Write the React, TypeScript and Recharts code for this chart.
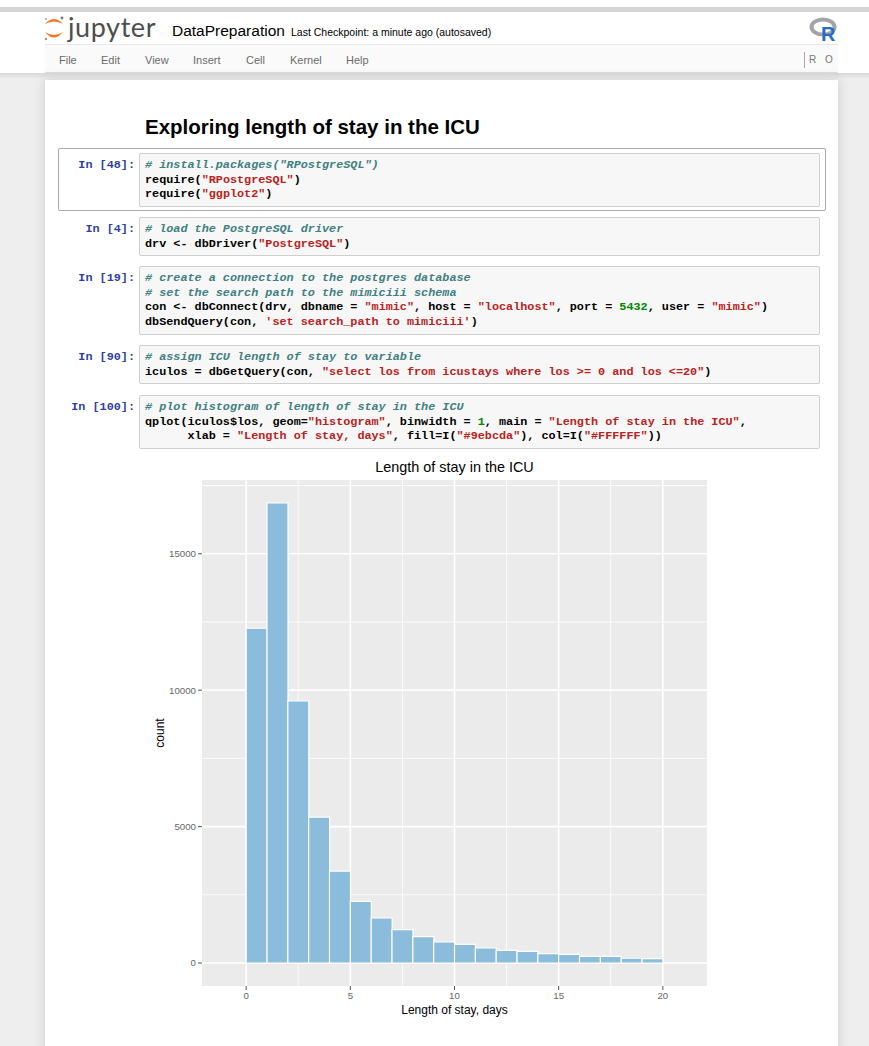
import React from 'react';
import {
  ComposedChart, Bar, XAxis, YAxis, CartesianGrid, Label,
} from 'recharts';

// histogram bins (binwidth = 1), left edge of each bin
const binLeft = [0, 1, 2, 3, 4, 5, 6, 7, 8, 9, 10, 11, 12, 13, 14, 15, 16, 17, 18, 19];
// counts
const counts = [12270, 16860, 9610, 5350, 3370, 2260, 1650, 1220, 970, 770, 680, 550, 460, 425, 340, 315, 245, 240, 175, 160];

const xTicks = [0, 5, 10, 15, 20];
const xMinor = [2.5, 7.5, 12.5, 17.5];
const yTicks = [0, 5000, 10000, 15000];
const yMinor = [2500, 7500, 12500, 17500];
const xDomain = [-2.12, 22.12];
const yDomain = [-843, 17703];

const histData = binLeft.map((x, i) => ({ mid: x + 0.5, count: counts[i] }));

const SANS = '"Liberation Sans", Arial, Helvetica, sans-serif';
const MONO = '"Liberation Mono", "DejaVu Sans Mono", monospace';

type Tok = [string, string]; // [kind, text]; kind: c comment, s string, n number, p plain

const cells: { prompt: string; top: number; lines: Tok[][] }[] = [
  {
    prompt: 'In [48]:', top: 153,
    lines: [
      [['c', '# install.packages("RPostgreSQL")']],
      [['p', 'require('], ['s', '"RPostgreSQL"'], ['p', ')']],
      [['p', 'require('], ['s', '"ggplot2"'], ['p', ')']],
    ],
  },
  {
    prompt: 'In [4]:', top: 217,
    lines: [
      [['c', '# load the PostgreSQL driver']],
      [['p', 'drv <- dbDriver('], ['s', '"PostgreSQL"'], ['p', ')']],
    ],
  },
  {
    prompt: 'In [19]:', top: 266,
    lines: [
      [['c', '# create a connection to the postgres database']],
      [['c', '# set the search path to the mimiciii schema']],
      [['p', 'con <- dbConnect(drv, dbname = '], ['s', '"mimic"'], ['p', ', host = '], ['s', '"localhost"'],
        ['p', ', port = '], ['n', '5432'], ['p', ', user = '], ['s', '"mimic"'], ['p', ')']],
      [['p', 'dbSendQuery(con, '], ['s', "'set search_path to mimiciii'"], ['p', ')']],
    ],
  },
  {
    prompt: 'In [90]:', top: 345,
    lines: [
      [['c', '# assign ICU length of stay to variable']],
      [['p', 'iculos = dbGetQuery(con, '], ['s', '"select los from icustays where los >= 0 and los <=20"'], ['p', ')']],
    ],
  },
  {
    prompt: 'In [100]:', top: 395,
    lines: [
      [['c', '# plot histogram of length of stay in the ICU']],
      [['p', 'qplot(iculos$los, geom='], ['s', '"histogram"'], ['p', ', binwidth = '], ['n', '1'],
        ['p', ', main = '], ['s', '"Length of stay in the ICU"'], ['p', ',']],
      [['p', '      xlab = '], ['s', '"Length of stay, days"'], ['p', ', fill=I('], ['s', '"#9ebcda"'],
        ['p', '), col=I('], ['s', '"#FFFFFF"'], ['p', '))']],
    ],
  },
];

const LINE_H = 14.7;

const tokStyle = (k: string): React.CSSProperties => {
  if (k === 'c') return { color: '#408080', fontStyle: 'italic' };
  if (k === 's') return { color: '#BA2121' };
  if (k === 'n') return { color: '#008800' };
  return { color: '#000' };
};

const CodeCell = ({ prompt, top, lines }: { prompt: string; top: number; lines: Tok[][] }) => {
  const h = lines.length * LINE_H + 10;
  return (
    <>
      <div style={{
        position: 'absolute', left: 40, width: 95, top: top + 5, textAlign: 'right',
        fontFamily: MONO, fontSize: 11.8, fontWeight: 700, lineHeight: `${LINE_H}px`, color: '#303F9F',
        whiteSpace: 'pre',
      }}>{prompt}</div>
      <div style={{
        position: 'absolute', left: 139, top, width: 681, height: h, boxSizing: 'border-box',
        background: '#F7F7F7', border: '1px solid #CFCFCF', borderRadius: 2,
        padding: '4px 5px', fontFamily: MONO, fontSize: 11.8, fontWeight: 700,
        lineHeight: `${LINE_H}px`, whiteSpace: 'pre',
      }}>
        {lines.map((ln, i) => (
          <div key={i}>
            {ln.map(([k, t], j) => <span key={j} style={tokStyle(k)}>{t}</span>)}
          </div>
        ))}
      </div>
    </>
  );
};

const menu: [string, number][] = [
  ['File', 59], ['Edit', 101], ['View', 145], ['Insert', 193], ['Cell', 246], ['Kernel', 290], ['Help', 346],
];

const abs = (s: React.CSSProperties): React.CSSProperties => ({ position: 'absolute', whiteSpace: 'nowrap', ...s });

export default function App() {
  return (
    <div style={abs({ left: 0, top: 0, width: 869, height: 1046, background: '#FFFFFF', overflow: 'hidden', fontFamily: SANS })}>
      {/* page chrome */}
      <div style={abs({ left: 0, top: 7, width: 869, height: 5, background: '#D4D4D4' })} />
      <div style={abs({ left: 0, top: 73, width: 869, height: 973, background: '#EEEEEE' })} />
      <div style={abs({ left: 0, top: 73, width: 869, height: 6, background: 'linear-gradient(#D8D8D8, #EEEEEE)' })} />
      <div style={abs({ left: 45, top: 44, width: 793, height: 29, background: '#FAFAFA', borderTop: '1px solid #E8E8E8', borderBottom: '1px solid #DDDDDD', boxSizing: 'border-box' })} />
      <div style={abs({ left: 45, top: 80, width: 793, height: 980, background: '#FFFFFF', boxShadow: '0 0 10px 1px rgba(87,87,87,0.18)' })} />

      {/* header */}
      <svg style={abs({ left: 43, top: 14 })} width={22} height={28}>
        <path d="M2,10 Q11,0 20,10 Q11,5 2,10 Z" fill="#F37726" />
        <path d="M2,18 Q11,29 20,18 Q11,24 2,18 Z" fill="#F37726" />
        <circle cx={19} cy={4} r={1.4} fill="#767677" />
        <circle cx={3} cy={25} r={1.2} fill="#989798" />
        <circle cx={3} cy={5} r={0.8} fill="#616262" />
      </svg>
      <div style={abs({ left: 68, top: 10, fontFamily: 'Lato, "Open Sans", sans-serif', fontSize: 27, lineHeight: '34px', color: '#4E4E4E', letterSpacing: 0.6 })}>jupyter</div>
      <div style={abs({ left: 172, top: 21, fontSize: 15.5, lineHeight: '20px', color: '#000' })}>DataPreparation</div>
      <div style={abs({ left: 291, top: 25, fontSize: 10.5, lineHeight: '14px', color: '#000' })}>Last Checkpoint: a minute ago (autosaved)</div>
      <svg style={abs({ left: 809, top: 16 })} width={32} height={28}>
        <ellipse cx={14} cy={11} rx={11.5} ry={7.5} fill="none" stroke="#A4A4A8" strokeWidth={4} />
        <text x={12} y={25} fontFamily={SANS} fontWeight={700} fontSize={20} fill="#276DC3">R</text>
      </svg>

      {/* menu */}
      {menu.map(([m, x]) => (
        <div key={m} style={abs({ left: x, top: 52, fontSize: 11, lineHeight: '16px', color: '#6A6A6A' })}>{m}</div>
      ))}
      <div style={abs({ left: 804, top: 52, width: 1, height: 16, background: '#A8A8A8' })} />
      <div style={abs({ left: 809, top: 53, fontSize: 10, lineHeight: '14px', color: '#777', letterSpacing: 3 })}>R O</div>

      {/* notebook */}
      <div style={abs({ left: 145, top: 114, fontSize: 20.5, fontWeight: 700, lineHeight: '26px', color: '#000' })}>
        Exploring length of stay in the ICU
      </div>
      <div style={abs({ left: 58, top: 148, width: 768, height: 63, border: '1px solid #ABABAB', borderRadius: 2, boxSizing: 'border-box' })} />
      {cells.map((c) => <CodeCell key={c.prompt} {...c} />)}

      {/* plot output */}
      <div style={abs({ left: 202, width: 505, top: 458, textAlign: 'center', fontSize: 14.4, lineHeight: '18px', color: '#000' })}>
        Length of stay in the ICU
      </div>
      <div style={abs({ left: 140, top: 455 })}>
        <ComposedChart
          width={580}
          height={570}
          data={histData}
          margin={{ top: 25, right: 13, bottom: 9, left: 10 }}
          barCategoryGap={0}
          barGap={0}
        >
          <CartesianGrid fill="#EBEBEB" stroke="#FFFFFF" strokeWidth={0.8} horizontalValues={yMinor} verticalValues={xMinor} />
          <CartesianGrid stroke="#FFFFFF" strokeWidth={1.6} horizontalValues={yTicks} verticalValues={xTicks} />
          <XAxis
            type="number"
            dataKey="mid"
            domain={xDomain}
            ticks={xTicks}
            allowDataOverflow
            height={30}
            axisLine={false}
            tickSize={4}
            tickMargin={2}
            tickLine={{ stroke: '#555' }}
            tick={{ fontSize: 9.7, fill: '#666', fontFamily: SANS }}
          >
            <Label value="Length of stay, days" position="insideBottom" offset={2} style={{ fontSize: 12, fill: '#000', fontFamily: SANS }} />
          </XAxis>
          <YAxis
            type="number"
            domain={yDomain}
            ticks={yTicks}
            allowDataOverflow
            width={52}
            axisLine={false}
            tickSize={4}
            tickMargin={2}
            tickLine={{ stroke: '#555' }}
            tick={{ fontSize: 9.7, fill: '#666', fontFamily: SANS }}
          >
            <Label value="count" angle={-90} position="center" dx={-16} style={{ fontSize: 12, fill: '#000', fontFamily: SANS }} />
          </YAxis>
          <Bar dataKey="count" fill="#8BBCDB" stroke="#FFFFFF" strokeWidth={1.2} isAnimationActive={false} />
        </ComposedChart>
      </div>
    </div>
  );
}
